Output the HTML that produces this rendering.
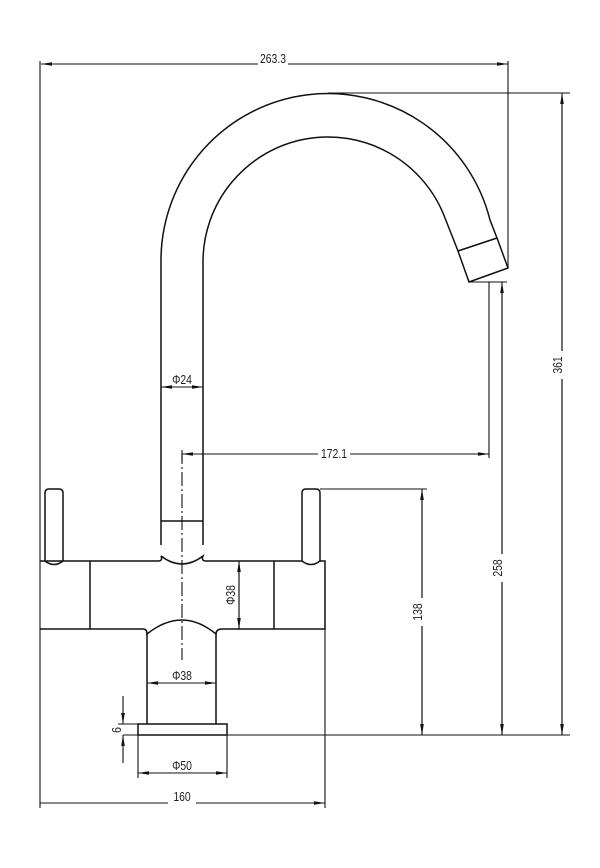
<!DOCTYPE html>
<html><head><meta charset="utf-8"><style>
html,body{margin:0;padding:0;background:#fff;}
svg{display:block;}
text{font-family:"Liberation Sans",sans-serif;font-size:13px;fill:#222;}
</style></head><body>
<svg width="600" height="868" viewBox="0 0 600 868" xmlns="http://www.w3.org/2000/svg">
<defs>
<marker id="a" markerWidth="12" markerHeight="6" refX="11" refY="3" orient="auto" markerUnits="userSpaceOnUse">
<path d="M0,1.2 L11,3 L0,4.8 Z" fill="#111"/></marker>
</defs>
<g stroke="#111" stroke-width="1.5" fill="none">
<path d="M161,545 L161,260 A167,167 0 0 1 490,220 L497,238 L508,268 L469,282 L458,251 L445,218 A125,125 0 0 0 203,262 L203,545"/>
<line x1="458" y1="251" x2="497" y2="238"/>
<line x1="161" y1="521" x2="203" y2="521"/>
<path d="M161,556 Q163,561 158,561 M161,556 Q182,572 203,556 Q201,561 206,561"/>
<path d="M40,561 L158,561 M206,561 L302,561 M320,561 L325,561 L325,629 L222,629 M143,629 L40,629"/>
<line x1="90" y1="561" x2="90" y2="629"/>
<line x1="274" y1="561" x2="274" y2="629"/>
<path d="M45,561 L45,493 Q45,489 49,489 L59,489 Q63,489 63,493 L63,561 Q54,568 45,561"/>
<path d="M302,561 L302,493 Q302,489 306,489 L316,489 Q320,489 320,493 L320,561 Q311,568 302,561"/>
<path d="M143,629 Q147,629 147,634 Q182,606 216,634 Q216,629 222,629"/>
<path d="M147,634 L147,724 M216,634 L216,724"/>
<rect x="138" y="724" width="89" height="11"/>
</g>
<g stroke="#111" stroke-width="1.1" fill="none">
<line x1="182" y1="450" x2="182" y2="660" stroke-dasharray="14,3,2,3"/>
<line x1="40" y1="61" x2="40" y2="808"/>
<line x1="508" y1="61" x2="508" y2="268"/>
<line x1="328" y1="93" x2="570" y2="93"/>
<line x1="123" y1="735" x2="570" y2="735"/>
<line x1="118" y1="724" x2="138" y2="724"/>
<line x1="320" y1="489" x2="427" y2="489"/>
<line x1="325" y1="629" x2="325" y2="808"/>
<line x1="469" y1="282" x2="507" y2="282"/>
<line x1="489" y1="282" x2="489" y2="458"/>
<line x1="138" y1="735" x2="138" y2="778"/>
<line x1="227" y1="735" x2="227" y2="778"/>
<line x1="42" y1="64" x2="508" y2="64" marker-end="url(#a)"/>
<line x1="500" y1="64" x2="41" y2="64" marker-end="url(#a)"/>
<line x1="562" y1="735" x2="562" y2="93" marker-end="url(#a)"/>
<line x1="562" y1="100" x2="562" y2="735" marker-end="url(#a)"/>
<line x1="502" y1="735" x2="502" y2="282" marker-end="url(#a)"/>
<line x1="502" y1="290" x2="502" y2="735" marker-end="url(#a)"/>
<line x1="422" y1="735" x2="422" y2="489" marker-end="url(#a)"/>
<line x1="422" y1="495" x2="422" y2="735" marker-end="url(#a)"/>
<line x1="182" y1="454" x2="489" y2="454" marker-end="url(#a)"/>
<line x1="480" y1="454" x2="182" y2="454" marker-end="url(#a)"/>
<line x1="182" y1="454" x2="182" y2="462"/>
<line x1="239" y1="629" x2="239" y2="561" marker-end="url(#a)"/>
<line x1="239" y1="568" x2="239" y2="629" marker-end="url(#a)"/>
<line x1="147" y1="683" x2="216" y2="683" marker-end="url(#a)"/>
<line x1="210" y1="683" x2="147" y2="683" marker-end="url(#a)"/>
<line x1="138" y1="773" x2="227" y2="773" marker-end="url(#a)"/>
<line x1="220" y1="773" x2="138" y2="773" marker-end="url(#a)"/>
<line x1="40" y1="803" x2="325" y2="803" marker-end="url(#a)"/>
<line x1="161" y1="387" x2="203" y2="387" marker-end="url(#a)"/>
<line x1="196" y1="387" x2="161" y2="387" marker-end="url(#a)"/>
<line x1="123" y1="696" x2="123" y2="724" marker-end="url(#a)"/>
<line x1="123" y1="763" x2="123" y2="735" marker-end="url(#a)"/>
</g>
<g>
<rect x="258" y="52" width="30" height="14" fill="#fff"/>
<text x="273" y="63" text-anchor="middle" transform="translate(273,0) scale(0.8,1) translate(-273,0)">263.3</text>
<rect x="166" y="370" width="32" height="14" fill="#fff"/>
<text x="182" y="384" text-anchor="middle" transform="translate(182,0) scale(0.8,1) translate(-182,0)">Φ24</text>
<rect x="318" y="446" width="32" height="14" fill="#fff"/>
<text x="334" y="458" text-anchor="middle" transform="translate(334,0) scale(0.8,1) translate(-334,0)">172.1</text>
<text x="182" y="680" text-anchor="middle" transform="translate(182,0) scale(0.8,1) translate(-182,0)">Φ38</text>
<text x="182" y="770" text-anchor="middle" transform="translate(182,0) scale(0.8,1) translate(-182,0)">Φ50</text>
<rect x="168" y="790" width="28" height="16" fill="#fff"/>
<text x="182" y="801" text-anchor="middle" transform="translate(182,0) scale(0.8,1) translate(-182,0)">160</text>
<text transform="translate(235,595) rotate(-90) scale(0.8,1)" text-anchor="middle">Φ38</text>
<rect x="410" y="598" width="16" height="28" fill="#fff"/>
<text transform="translate(422,612) rotate(-90) scale(0.8,1)" text-anchor="middle">138</text>
<rect x="490" y="554" width="16" height="28" fill="#fff"/>
<text transform="translate(502,568) rotate(-90) scale(0.8,1)" text-anchor="middle">258</text>
<rect x="550" y="351" width="16" height="28" fill="#fff"/>
<text transform="translate(562,365) rotate(-90) scale(0.8,1)" text-anchor="middle">361</text>
<text transform="translate(121,730) rotate(-90) scale(0.8,1)" text-anchor="middle">6</text>
</g>
</svg>
</body></html>
